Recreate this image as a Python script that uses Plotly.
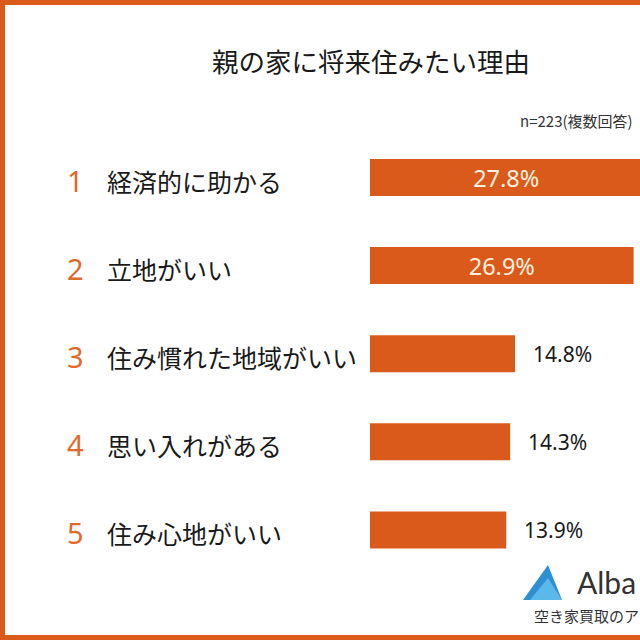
import plotly.graph_objects as go

# ---- data ----
ranks = ["1", "2", "3", "4", "5"]
reasons = ["経済的に助かる", "立地がいい", "住み慣れた地域がいい", "思い入れがある", "住み心地がいい"]
values = [27.8, 26.9, 14.8, 14.3, 13.9]
title_text = "親の家に将来住みたい理由"
note_text = "n=223(複数回答)"
logo_text = "Alba"
logo_sub = "空き家買取のア"

BAR = "#DA5A1C"
NUM = "#E06A2A"
FONT = "Noto Sans CJK JP"
NUMFONT = "Noto Sans"
W = H = 640

inside_pos = ["inside" if v > 20 else "none" for v in values]

fig = go.Figure()
fig.add_trace(go.Bar(
    x=values, y=reasons, orientation="h",
    marker=dict(color=BAR, line=dict(width=0)),
    width=0.42,
    text=[f"{v:.1f}%" for v in values],
    textposition=inside_pos,
    insidetextanchor="middle",
    constraintext="none",
    textfont=dict(family=NUMFONT, size=23.5, color="#fdf0df"),
    hoverinfo="skip",
))

annotations = []
for r, lab, v in zip(ranks, reasons, values):
    annotations.append(dict(x=75 / W, xref="paper", y=lab, yref="y", text=r,
                            showarrow=False, xanchor="center", yanchor="middle", yshift=-3,
                            font=dict(family=NUMFONT, size=29, color=NUM)))
    annotations.append(dict(x=105 / W, xref="paper", y=lab, yref="y", text=lab,
                            showarrow=False, xanchor="left", yanchor="middle", yshift=-3,
                            font=dict(family=FONT, size=25, color="#1a1a1a")))
    if v <= 20:
        annotations.append(dict(x=v, xref="x", y=lab, yref="y", text=f"{v:.1f}%",
                                showarrow=False, xanchor="left", yanchor="middle",
                                xshift=16,
                                font=dict(family=NUMFONT, size=21, color="#1a1a1a")))

annotations.append(dict(x=371 / W, y=1 - 60 / H, xref="paper", yref="paper", text=title_text,
                        showarrow=False, xanchor="center", yanchor="middle",
                        font=dict(family=FONT, size=26.5, color="#1a1a1a")))
annotations.append(dict(x=518 / W, y=1 - 120 / H, xref="paper", yref="paper", text=note_text,
                        showarrow=False, xanchor="left", yanchor="middle",
                        font=dict(family=FONT, size=15, color="#333333")))
annotations.append(dict(x=575 / W, y=1 - 582 / H, xref="paper", yref="paper", text=logo_text,
                        showarrow=False, xanchor="left", yanchor="middle",
                        font=dict(family="Lato", size=30, color="#333333")))
annotations.append(dict(x=532 / W, y=1 - 615 / H, xref="paper", yref="paper", text=logo_sub,
                        showarrow=False, xanchor="left", yanchor="middle",
                        font=dict(family=FONT, size=15, color="#333333")))

shapes = [
    dict(type="rect", xref="paper", yref="paper",
         x0=2.5 / W, x1=1.05, y0=1 - 637.5 / H, y1=1 - 2.5 / H,
         line=dict(color=BAR, width=5), fillcolor="rgba(0,0,0,0)", layer="above"),
    # logo triangle
    dict(type="path", xref="paper", yref="paper",
         path=f"M {523/W} {1-600/H} L {548/W} {1-565/H} L {562/W} {1-600/H} Z",
         fillcolor="#2E8FD3", line=dict(width=0)),
    dict(type="path", xref="paper", yref="paper",
         path=f"M {530/W} {1-600/H} L {548/W} {1-578/H} L {562/W} {1-600/H} Z",
         fillcolor="#5AB8EA", line=dict(width=0)),
]

fig.update_layout(
    width=W, height=H,
    margin=dict(l=0, r=0, t=0, b=0),
    paper_bgcolor="white", plot_bgcolor="white",
    showlegend=False,
    xaxis=dict(domain=[370 / W, 1], range=[0, 270 / 9.8], visible=False, fixedrange=True),
    yaxis=dict(type="category", categoryorder="array", categoryarray=reasons,
               range=[5.25, -2.015], visible=False, fixedrange=True),
    annotations=annotations,
    shapes=shapes,
)

fig.write_html("out.html", config={"displayModeBar": False},
               post_script="document.body.style.margin='0';document.body.style.overflow='hidden';")
